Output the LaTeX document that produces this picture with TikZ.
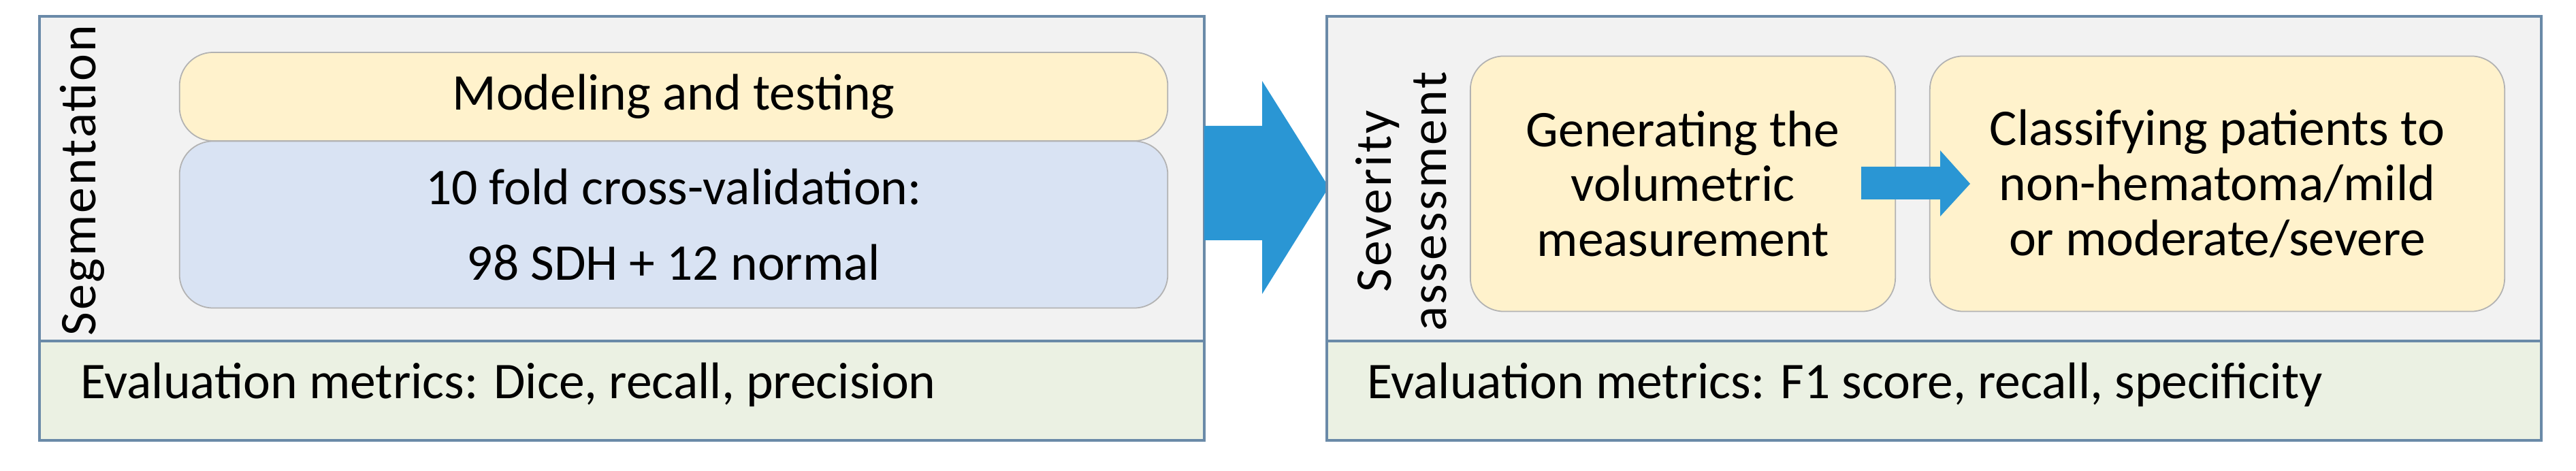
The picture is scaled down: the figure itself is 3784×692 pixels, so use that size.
\documentclass[tikz,border=0pt]{standalone}
\usepackage{fontspec}
\setmainfont{Carlito}
\begin{document}
\begin{tikzpicture}[x=0.01cm,y=-0.01cm,
  frame/.style={fill=gray!10,draw=frameC,line width=1pt},
  evalb/.style={fill=greenC,draw=frameC,line width=1pt},
  rbox/.style={draw=gray!60,line width=0.5pt,rounded corners=14pt},
  txt/.style={font=\fontsize{21.5}{23}\selectfont,align=center},
  side/.style={font=\fontsize{21.5}{23}\selectfont\addfontfeature{LetterSpace=4},align=center,rotate=90},
  bigarrow/.style={fill=arrowC,draw=none}]
\definecolor{frameC}{HTML}{6A8AA8}
\definecolor{greenC}{HTML}{EBF1E3}
\definecolor{yellowC}{HTML}{FFF2CC}
\definecolor{blueC}{HTML}{D9E3F3}
\definecolor{arrowC}{HTML}{2A96D4}
\useasboundingbox (0,0) rectangle (3784,692);
% left frame
\path[frame] (58,24) rectangle (1769,501);
\path[evalb] (58,501) rectangle (1769,647);
\node[side] (seg) at (121,265) {Segmentation};
\node[rbox,fill=yellowC,minimum width=1451*0.2845pt,minimum height=130*0.2845pt,txt] (mt) at (989.5,142) {Modeling and testing};
\node[rbox,fill=blueC,minimum width=1451*0.2845pt,minimum height=245*0.2845pt,txt] (cv) at (989.5,330) {10 fold cross-validation:\\[0.4em]98 SDH + 12 normal};
\node[txt,anchor=west] (ev1) at (106,565) {Evaluation metrics: Dice, recall, precision};
% big arrow
\path[bigarrow] (1769,185) -- (1854,185) -- (1854,119) -- (1952,275) -- (1854,432) -- (1854,353) -- (1769,353) -- cycle;
% right frame
\path[frame] (1949,24) rectangle (3733,501);
\path[evalb] (1949,501) rectangle (3733,647);
\node[side] (sev) at (2058,296) {Severity\\assessment};
\node[rbox,fill=yellowC,minimum width=624*0.2845pt,minimum height=375*0.2845pt,txt] (gen) at (2472,270) {Generating the\\volumetric\\measurement};
\node[rbox,fill=yellowC,minimum width=844*0.2845pt,minimum height=375*0.2845pt,txt] (cls) at (3257,270) {Classifying patients to\\non-hematoma/mild\\or moderate/severe};
\path[bigarrow] (2734,245) -- (2850,245) -- (2850,221) -- (2894,270) -- (2850,318) -- (2850,293) -- (2734,293) -- cycle;
\node[txt,anchor=west] (ev2) at (1996,565) {Evaluation metrics: F1 score, recall, specificity};
\end{tikzpicture}
\end{document}
